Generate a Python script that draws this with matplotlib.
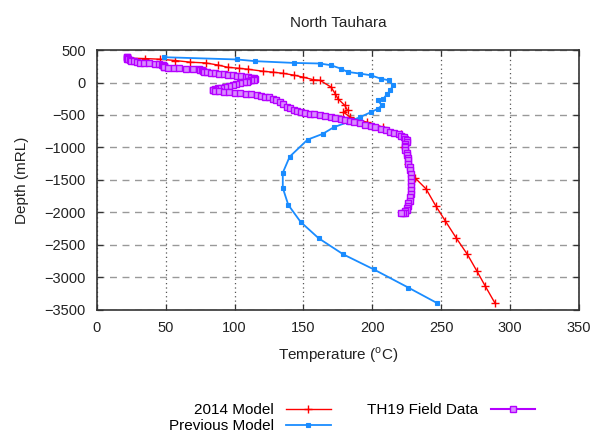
import numpy as np
import matplotlib
matplotlib.use('Agg')
import matplotlib.pyplot as plt
from matplotlib.transforms import Bbox

plt.rcParams['font.family'] = ['Liberation Sans', 'DejaVu Sans']
plt.rcParams['mathtext.fontset'] = 'custom'
plt.rcParams['mathtext.rm'] = 'Liberation Sans'

# --- data (temperature degC, depth mRL) ---
model_2014_t = [24, 35, 46, 57, 68, 79, 88, 95, 103, 110, 121, 128, 135, 143, 150, 157, 162,
                170, 173, 175, 180, 182, 179, 184, 196, 208, 221, 223, 226, 231, 239, 246,
                253, 261, 269, 276, 282, 289]
model_2014_d = [376, 370, 360, 340, 314, 303, 270, 236, 220, 205, 174, 160, 143, 115, 82, 45, 35,
                -69, -171, -249, -352, -430, -456, -534, -611, -689, -791, -1000, -1250, -1470,
                -1640, -1900, -2135, -2400, -2650, -2910, -3140, -3400]

prev_model_t = [49, 102, 115, 143, 162, 170, 177, 182, 191, 199, 206, 212, 215, 213, 211, 208,
                204, 207, 204, 199, 191, 182, 172, 164, 153, 140, 135, 135, 139, 148, 161, 179,
                201, 226, 247]
prev_model_d = [391, 356, 330, 303, 294, 267, 216, 164, 139, 112, 61, 35, -42, -120, -171, -249,
                -275, -352, -404, -456, -534, -611, -689, -791, -880, -1143, -1391, -1624, -1887,
                -2150, -2400, -2650, -2880, -3160, -3400]

th19_t = [22, 22, 22, 22, 23, 24, 25, 27, 29, 31, 34, 38, 42, 45, 47, 48, 49, 49, 49, 49,
          52, 56, 60, 65, 70, 74, 75, 76, 77, 78, 80, 83, 86, 89, 92, 95, 99, 102, 105, 108,
          110, 112, 114, 115, 114, 112, 110, 109, 107, 104, 101, 99, 96, 93, 90, 88, 86, 84,
          84, 86, 89, 92, 96, 100, 104, 108, 112, 116, 119, 122, 125, 128, 130, 133, 135, 138,
          140, 143, 145, 148, 151, 155, 158, 162, 166, 170, 173, 177, 180, 184, 187, 191, 195,
          199, 202, 206, 210, 213, 216, 219, 221, 223, 224, 225, 225, 224, 224, 224, 224, 225,
          225, 226, 226, 226, 227, 227, 228, 228, 228, 228, 228, 228, 227, 227, 226, 226, 225,
          225, 224, 224, 222, 221]
th19_d = [395, 388, 380, 370, 360, 350, 340, 328, 318, 308, 300, 295, 290, 285, 278, 270, 260,
          250, 242, 235, 228, 222, 218, 215, 211, 205, 198, 190, 180, 168, 158, 150, 144, 138,
          130, 122, 115, 108, 100, 92, 84, 75, 65, 55, 45, 35, 25, 15, 5, -10, -25, -40, -52,
          -65, -78, -90, -100, -110, -118, -125, -135, -145, -152, -160, -166, -172, -180, -190,
          -200, -215, -230, -250, -270, -300, -330, -370, -395, -420, -440, -460, -470, -480,
          -492, -505, -518, -530, -542, -555, -572, -590, -610, -630, -650, -670, -690, -710,
          -735, -760, -780, -800, -820, -840, -865, -890, -920, -950, -975, -1000, -1040,
          -1080, -1120, -1160, -1200, -1250, -1300, -1350, -1410, -1470, -1530, -1600, -1660,
          -1720, -1770, -1820, -1860, -1900, -1930, -1960, -1985, -2010, -2010, -2010]

x_ticks = [0, 50, 100, 150, 200, 250, 300, 350]
y_ticks = [500, 0, -500, -1000, -1500, -2000, -2500, -3000, -3500]

fig = plt.figure(figsize=(6.05, 4.36), dpi=100, facecolor='white')
ax = fig.add_axes([0.160, 0.290, 0.797, 0.595])

l1, = ax.plot(model_2014_t, model_2014_d, color='#ff0000', lw=1.0, marker='+',
              ms=5.5, mew=1.0, label='2014 Model')
l2, = ax.plot(prev_model_t, prev_model_d, color='#1a8cff', lw=1.3, marker='s',
              ms=3.5, mew=0.8, label='Previous Model')
l3, = ax.plot(th19_t, th19_d, color='#b400ff', lw=1.5, marker='s', ms=4,
              mfc='#d98cff', mec='#b400ff', mew=1.0, label='TH19 Field Data')

ax.set_xlim(0, 350)
ax.set_ylim(-3500, 500)
ax.set_xticks(x_ticks)
ax.set_yticks(y_ticks)

ax.xaxis.grid(True, linestyle=(0, (1, 2.5)), color='#555555', lw=0.9)
ax.yaxis.grid(True, linestyle=(0, (5, 4)), color='#999999', lw=1.0)
ax.set_axisbelow(True)

ax.tick_params(direction='in', length=4, width=0.9, colors='#333333', labelsize=10.5,
               top=True, right=True, pad=8)
ax.tick_params(labelcolor='#222222')
for s in ax.spines.values():
    s.set_color('#333333')
    s.set_linewidth(1.2)

ax.set_title('North Tauhara', fontsize=11, color='#222222', pad=17)
ax.set_xlabel(r'Temperature ($^{\rm o}$C)', fontsize=11, color='#222222', labelpad=8)
ax.set_ylabel('Depth (mRL)', fontsize=11, color='#222222', labelpad=11)

fig.legend(handles=[l1, l2, l3], ncol=2, markerfirst=False, frameon=False, fontsize=11,
           loc='center', bbox_to_anchor=(352 / 605, 1 - 418 / 436), handlelength=2.9,
           handletextpad=0.8, columnspacing=2.4, labelspacing=0.15)

# the reference image is cropped just right of the "350" label
clip = Bbox.from_extents(0, 0, 590, 436)
for lab in ax.get_xticklabels():
    lab.set_clip_box(clip)
    lab.set_clip_on(True)

fig.savefig('out.png', dpi=100, facecolor='white')
